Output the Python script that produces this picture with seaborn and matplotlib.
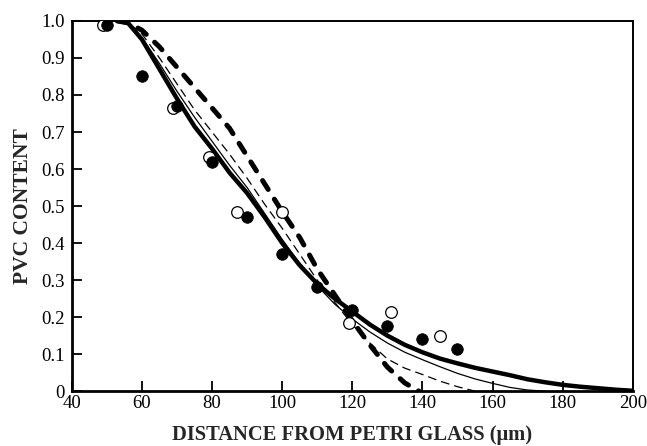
"""
PVC content profile vs distance from the petri glass.
"""
import matplotlib
matplotlib.use("Agg")
import matplotlib.pyplot as plt
import seaborn as sns

sns.set_style("ticks")
plt.rcParams["font.family"] = ["Liberation Serif", "DejaVu Serif"]

# measured points
filled_x = [50, 60, 70, 80, 90, 100, 110, 120, 130, 140, 150]
filled_y = [0.99, 0.85, 0.77, 0.62, 0.47, 0.37, 0.28, 0.22, 0.175, 0.14, 0.115]
open_x = [49, 69, 79, 87, 100, 119, 131, 145]
open_y = [0.99, 0.765, 0.633, 0.484, 0.483, 0.184, 0.214, 0.15]

# model curves
thick_solid_x = [53, 56, 60, 65, 70, 75, 80, 85, 90, 95, 100, 105, 110, 115, 120,
                 125, 130, 135, 140, 145, 150, 155, 160, 165, 170, 175, 180, 185,
                 190, 195, 200]
thick_solid_y = [1.0, 0.995, 0.95, 0.87, 0.79, 0.715, 0.655, 0.59, 0.535, 0.47, 0.4,
                 0.34, 0.29, 0.25, 0.215, 0.18, 0.15, 0.125, 0.105, 0.088, 0.075,
                 0.063, 0.053, 0.043, 0.032, 0.024, 0.017, 0.012, 0.008, 0.004, 0.001]
thin_solid_x = [53, 56, 60, 65, 70, 75, 80, 85, 90, 95, 100, 105, 110, 115, 120,
                125, 130, 135, 140, 145, 150, 155, 160, 165, 170, 175]
thin_solid_y = [1.0, 0.995, 0.955, 0.885, 0.81, 0.74, 0.675, 0.61, 0.55, 0.48, 0.41,
                0.345, 0.285, 0.235, 0.195, 0.16, 0.13, 0.105, 0.085, 0.066, 0.048,
                0.033, 0.021, 0.01, 0.003, 0.0]
thin_dash_x = [53, 56, 60, 65, 70, 75, 80, 85, 90, 95, 100, 105, 110, 115, 120,
               125, 130, 135, 140, 145, 150, 155]
thin_dash_y = [1.0, 0.995, 0.965, 0.9, 0.83, 0.76, 0.7, 0.64, 0.575, 0.505, 0.44,
               0.37, 0.3, 0.24, 0.18, 0.13, 0.087, 0.062, 0.045, 0.027, 0.012, 0.0]
thick_dash_x = [53, 56, 60, 65, 70, 75, 80, 85, 90, 95, 100, 105, 110, 115, 120,
                125, 130, 135, 139]
thick_dash_y = [1.0, 0.995, 0.975, 0.93, 0.875, 0.82, 0.765, 0.71, 0.635, 0.56,
                0.485, 0.415, 0.33, 0.26, 0.19, 0.125, 0.065, 0.022, 0.0]

fig = plt.figure(figsize=(6.47, 4.46), dpi=100)
ax = fig.add_axes([0.111, 0.123, 0.867, 0.830])

sns.lineplot(x=thick_solid_x, y=thick_solid_y, ax=ax, color="black", lw=3.2)
sns.lineplot(x=thin_solid_x, y=thin_solid_y, ax=ax, color="black", lw=0.9)
sns.lineplot(x=thin_dash_x, y=thin_dash_y, ax=ax, color="black", lw=0.9,
             linestyle=(0, (7, 4)))
sns.lineplot(x=thick_dash_x, y=thick_dash_y, ax=ax, color="black", lw=3.6,
             linestyle=(0, (2.1, 2.3)), dash_capstyle="round")

sns.scatterplot(x=open_x, y=open_y, ax=ax, s=70, color="white",
                edgecolor="black", linewidth=0.9, zorder=3)
sns.scatterplot(x=filled_x, y=filled_y, ax=ax, s=70, color="black",
                edgecolor="black", linewidth=0.5, zorder=4)

ax.set_xlim(40, 200)
ax.set_ylim(0, 1.0)
ax.set_xticks(range(40, 201, 20))
ax.set_yticks([i / 10 for i in range(11)])
ax.set_yticklabels(["0"] + ["%.1f" % (i / 10) for i in range(1, 11)])
ax.tick_params(direction="in", length=7, width=1.3, labelsize=13.5,
               colors="black", pad=3)
ax.tick_params(axis="y", pad=5)

for side in ["left", "bottom"]:
    ax.spines[side].set_linewidth(2.0)
for side in ["top", "right"]:
    ax.spines[side].set_linewidth(1.4)
for sp in ax.spines.values():
    sp.set_color("black")

ax.set_xlabel("DISTANCE FROM PETRI GLASS (μm)", fontsize=14.8,
              fontweight="bold", labelpad=9)
ax.set_ylabel("PVC CONTENT", fontsize=15.5, fontweight="bold", labelpad=6)

fig.savefig("out.png", dpi=100)
